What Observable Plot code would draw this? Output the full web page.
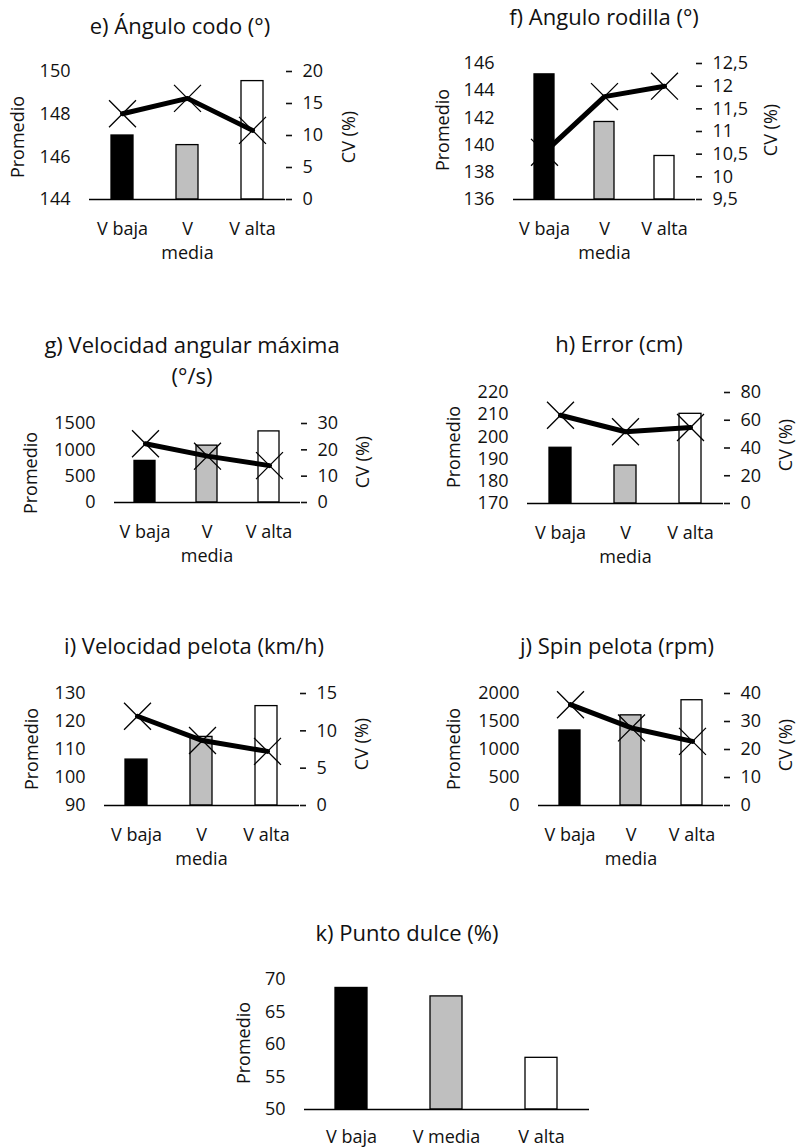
<!DOCTYPE html>
<html><head><meta charset="utf-8">
<script src="https://cdn.jsdelivr.net/npm/d3@7"></script>
<script src="https://cdn.jsdelivr.net/npm/@observablehq/plot@0.6"></script>
<style>
body{margin:0;background:#fff;}
#page{position:relative;width:797px;height:1147px;overflow:hidden;font-family:"Open Sans",sans-serif;color:#111;}
.t{position:absolute;transform:translate(-50%,-50%);white-space:nowrap;font-size:22px;line-height:31px;text-align:center;}
.yl{position:absolute;transform:translate(-50%,-50%) rotate(-90deg);white-space:nowrap;font-size:18px;line-height:18px;}
.p{position:absolute;}
</style></head><body><div id="page"></div>
<script>
// ---- data ----
const categories = ["V baja", "V media", "V alta"];
const barFills = ["#000000", "#bfbfbf", "#ffffff"];

const promE = [147.0, 146.55, 149.55];  const cvE = [13.4, 15.8, 10.8];
const promF = [145.2, 141.7, 139.2];    const cvF = [10.54, 11.77, 12.0];
const promG = [790, 1080, 1350];        const cvG = [22.3, 17.6, 14.0];
const promH = [195.1, 187.1, 210.4];    const cvH = [63.6, 51.7, 54.8];
const promI = [106.4, 114.5, 125.5];    const cvI = [11.95, 8.7, 7.25];
const promJ = [1340, 1610, 1880];       const cvJ = [36.0, 27.7, 22.9];
const promK = [68.7, 67.4, 57.95];

const ticksE = [144, 146, 148, 150];          const rTicksE = [0, 5, 10, 15, 20];
const ticksF = [136, 138, 140, 142, 144, 146]; const rTicksF = [9.5, 10, 10.5, 11, 11.5, 12, 12.5];
const ticksG = [0, 500, 1000, 1500];          const rTicksG = [0, 10, 20, 30];
const ticksH = [170, 180, 190, 200, 210, 220]; const rTicksH = [0, 20, 40, 60, 80];
const ticksI = [90, 100, 110, 120, 130];      const rTicksI = [0, 5, 10, 15];
const ticksJ = [0, 500, 1000, 1500, 2000];    const rTicksJ = [0, 10, 20, 30, 40];
const ticksK = [50, 55, 60, 65, 70];

const titles = {
  e: "e) Ángulo codo (°)", f: "f) Angulo rodilla (°)", g: "g) Velocidad angular máxima<br>(°/s)",
  h: "h) Error (cm)", i: "i) Velocidad pelota (km/h)", j: "j) Spin pelota (rpm)", k: "k) Punto dulce (%)"
};
const leftLabel = "Promedio";
const rightLabel = "CV (%)";

// ---- layout (pixel positions only) ----
const charts = [
  {id:"e", prom:promE, cv:cvE, lt:ticksE, rt:rTicksE, wrap:true, dy:19, box:[0,40,398,265], frame:[89,71,285,199], tp:[180,25], pl:[17,137], cl:[348,137]},
  {id:"f", prom:promF, cv:cvF, lt:ticksF, rt:rTicksF, wrap:true, dy:19, box:[400,30,797,265], frame:[513,63,695,199], tp:[604,16], pl:[442,130], cl:[770,130]},
  {id:"g", prom:promG, cv:cvG, lt:ticksG, rt:rTicksG, wrap:true, dy:19, box:[0,400,398,575], frame:[114,423,300,502], tp:[192,360], pl:[30,473], cl:[362,462]},
  {id:"h", prom:promH, cv:cvH, lt:ticksH, rt:rTicksH, wrap:true, dy:19, box:[400,370,797,575], frame:[527,392,723,503], tp:[619,343], pl:[453,447], cl:[785,445]},
  {id:"i", prom:promI, cv:cvI, lt:ticksI, rt:rTicksI, wrap:true, dy:19, box:[0,670,398,880], frame:[104,693,299,805], tp:[194,645], pl:[31,749], cl:[361,744]},
  {id:"j", prom:promJ, cv:cvJ, lt:ticksJ, rt:rTicksJ, wrap:true, dy:19, box:[400,670,797,880], frame:[538,693,723,805], tp:[617,645], pl:[453,749], cl:[785,745]},
  {id:"k", prom:promK, cv:null, lt:ticksK, rt:null, wrap:false, dy:17, box:[200,960,650,1147], frame:[304,979,589,1109], tp:[407,932], pl:[243,1043], cl:null}
];

const page = document.getElementById("page");
const fmt = d => String(d).replace(".", ",");
const wrapFmt = d => d === "V media" ? "V\nmedia" : d;
const baseStyle = {background:"transparent", fontFamily:'"Open Sans", sans-serif', fontSize:"18px", color:"#111", overflow:"visible"};

function place(el, x, y) { el.style.left = x + "px"; el.style.top = y + "px"; page.appendChild(el); }

for (const c of charts) {
  const [x0, y0, x1, y1] = c.box, [L, T, R, B] = c.frame;
  const width = x1 - x0, height = y1 - y0;
  const margins = {marginLeft: L - x0, marginRight: x1 - R, marginTop: T - y0, marginBottom: y1 - B};
  const rows = categories.map((cat, i) => ({cat, prom: c.prom[i], cv: c.cv ? c.cv[i] : null, fill: barFills[i]}));
  const lo = c.lt[0], hi = c.lt[c.lt.length - 1];

  const p1 = Plot.plot({
    width, height, ...margins, style: baseStyle,
    x: {type: "band", domain: categories, paddingInner: 0.66, paddingOuter: 0.33, axis: null},
    y: {domain: [lo, hi]},
    color: {type: "identity"},
    marks: [
      Plot.barY(rows, {x: "cat", y1: () => lo, y2: "prom", fill: "fill", stroke: "#000", strokeWidth: 1.3}),
      Plot.ruleY([lo], {stroke: "#000", strokeWidth: 1.6}),
      Plot.axisY({ticks: c.lt, tickSize: 0, tickPadding: 19, line: true, strokeWidth: 1.6, label: null, tickFormat: fmt}),
      Plot.text(categories, {x: d => d, text: c.wrap ? wrapFmt : d => d, frameAnchor: "bottom", lineAnchor: "top", dy: c.dy, lineHeight: 1.3, fontSize: 18})
    ]
  });
  p1.classList.add("p");
  place(p1, x0, y0);

  if (c.cv) {
    const rlo = c.rt[0], rhi = c.rt[c.rt.length - 1];
    const p2 = Plot.plot({
      width, height, ...margins, style: baseStyle,
      x: {type: "point", domain: categories, padding: 0.5, axis: null},
      y: {domain: [rlo, rhi]},
      marks: [
        Plot.line(rows, {x: "cat", y: "cv", stroke: "#000", strokeWidth: 5, strokeLinejoin: "round"}),
        Plot.dot(rows, {x: "cat", y: "cv", symbol: "times", r: 12.3, stroke: "#000", strokeWidth: 1.3}),
        Plot.axisY({anchor: "right", ticks: c.rt, tickSize: 6, tickPadding: 11, line: true, strokeWidth: 1.6, label: null, tickFormat: fmt})
      ]
    });
    p2.classList.add("p");
    place(p2, x0, y0);
    const cl = document.createElement("div"); cl.className = "yl"; cl.textContent = rightLabel;
    place(cl, c.cl[0], c.cl[1]);
  }

  const t = document.createElement("div"); t.className = "t"; t.innerHTML = titles[c.id];
  place(t, c.tp[0], c.tp[1]);
  const pl = document.createElement("div"); pl.className = "yl"; pl.textContent = leftLabel;
  place(pl, c.pl[0], c.pl[1]);
}
</script></body></html>
